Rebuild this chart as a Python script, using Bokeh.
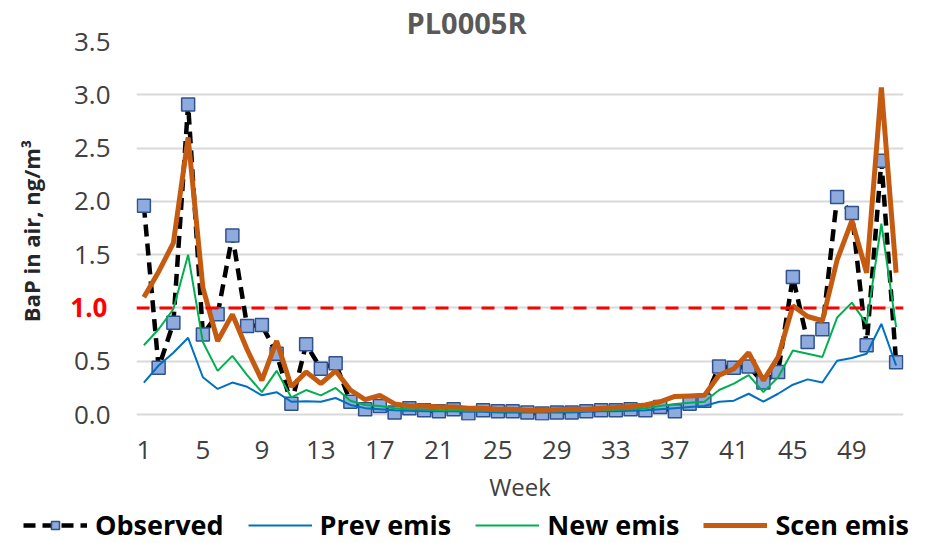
from bokeh.plotting import figure
from bokeh.layouts import column
from bokeh.models import (Range1d, FixedTicker, Legend, LegendItem, Span, Title,
                          LinearAxis, CustomJSTickFormatter, ColumnDataSource)
from bokeh.embed import file_html
from bokeh.resources import INLINE

# ---------------- data ----------------
weeks = list(range(1, 53))
observed = [1.96, 0.44, 0.86, 2.91, 0.75, 0.94, 1.68, 0.83, 0.84, 0.57,
            0.10, 0.66, 0.43, 0.48, 0.12, 0.05, 0.08, 0.02, 0.06, 0.04,
            0.03, 0.05, 0.01, 0.04, 0.03, 0.03, 0.02, 0.01, 0.02, 0.02,
            0.03, 0.04, 0.04, 0.05, 0.04, 0.07, 0.03, 0.10, 0.13, 0.45,
            0.44, 0.45, 0.30, 0.40, 1.29, 0.68, 0.80, 2.04, 1.89, 0.65,
            2.38, 0.49]
prev_emis = [0.30, 0.46, 0.58, 0.72, 0.35, 0.24, 0.30, 0.26, 0.18, 0.21,
             0.12, 0.125, 0.12, 0.155, 0.09, 0.06, 0.05, 0.04, 0.035, 0.03,
             0.03, 0.03, 0.025, 0.025, 0.02, 0.02, 0.02, 0.02, 0.02, 0.02,
             0.025, 0.03, 0.03, 0.035, 0.04, 0.05, 0.06, 0.07, 0.08, 0.12,
             0.13, 0.195, 0.12, 0.195, 0.28, 0.33, 0.30, 0.505, 0.53, 0.57,
             0.85, 0.46]
new_emis = [0.65, 0.80, 0.99, 1.50, 0.68, 0.41, 0.55, 0.37, 0.21, 0.41,
            0.16, 0.23, 0.18, 0.25, 0.13, 0.09, 0.08, 0.06, 0.05, 0.05,
            0.04, 0.04, 0.035, 0.035, 0.03, 0.03, 0.03, 0.03, 0.03, 0.03,
            0.035, 0.04, 0.045, 0.05, 0.06, 0.08, 0.10, 0.11, 0.12, 0.23,
            0.29, 0.37, 0.21, 0.35, 0.60, 0.57, 0.54, 0.91, 1.05, 0.85,
            1.79, 0.82]
scen_emis = [1.10, 1.34, 1.61, 2.60, 1.19, 0.69, 0.94, 0.61, 0.32, 0.69,
             0.26, 0.40, 0.29, 0.41, 0.23, 0.14, 0.18, 0.10, 0.08, 0.08,
             0.07, 0.07, 0.06, 0.06, 0.05, 0.05, 0.04, 0.04, 0.045, 0.05,
             0.05, 0.06, 0.065, 0.075, 0.09, 0.12, 0.17, 0.175, 0.18, 0.37,
             0.43, 0.58, 0.32, 0.54, 1.02, 0.92, 0.88, 1.45, 1.82, 1.33,
             3.07, 1.33]
x_ticks = [1, 5, 9, 13, 17, 21, 25, 29, 33, 37, 41, 45, 49]
y_ticks = [0.0, 0.5, 1.5, 2.0, 2.5, 3.0, 3.5]
limit_value = 1.0
title_text = "PL0005R"
y_label_text = "BaP in air, ng/m³"
x_label_text = "Week"
series_names = ["Observed", "Prev emis", "New emis", "Scen emis"]

FONT = "Open Sans"
TXT = "#404040"

OBS = dict(line_color="black", line_width=4.5, line_dash="12 7")
SQ = dict(marker="square", size=13, fill_color="#8FAADC", line_color="#2F528F",
          line_width=1.5)
PREV = dict(line_color="#0070C0", line_width=2)
NEW = dict(line_color="#00B050", line_width=2)
SCEN = dict(line_color="#C55A11", line_width=5)

src = ColumnDataSource(dict(week=weeks, obs=observed, prev=prev_emis,
                            new=new_emis, scen=scen_emis))

p = figure(width=935, height=505, output_backend="svg", toolbar_location=None,
           x_range=Range1d(0.5, 52.5), y_range=Range1d(-0.056, 3.5),
           min_border_left=136, min_border_right=32, min_border_top=40,
           min_border_bottom=83)
p.outline_line_color = None
p.background_fill_color = "white"
p.border_fill_color = "white"

# title (offset from the frame's left edge)
p.title = Title(text=title_text, align="left", offset=270, text_font=FONT,
                text_font_size="29px", text_font_style="bold", text_color="#595959",
                standoff=0)

# grid
p.xgrid.visible = False
p.ygrid.grid_line_color = "#D9D9D9"
p.ygrid.grid_line_width = 2
p.yaxis.ticker = FixedTicker(ticks=y_ticks)
p.ygrid.ticker = FixedTicker(ticks=y_ticks + [limit_value])
p.xaxis.ticker = FixedTicker(ticks=x_ticks)


def style_axis(ax):
    ax.axis_line_color = None
    ax.major_tick_line_color = None
    ax.minor_tick_line_color = None
    ax.major_tick_out = 0
    ax.major_tick_in = 0
    ax.major_label_text_font = FONT
    ax.major_label_text_font_size = "26px"
    ax.major_label_text_color = TXT


style_axis(p.xaxis[0])
style_axis(p.yaxis[0])

p.yaxis.major_label_standoff = 26
p.yaxis.formatter = CustomJSTickFormatter(code="return tick.toFixed(1);")

p.xaxis.major_label_standoff = 20
p.xaxis.axis_label = x_label_text
p.xaxis.axis_label_text_font = FONT
p.xaxis.axis_label_text_font_style = "normal"
p.xaxis.axis_label_text_font_size = "24px"
p.xaxis.axis_label_text_color = TXT
p.xaxis.axis_label_standoff = 8

# red "1.0" tick label: outer axis whose label is pulled back over the first
# axis' label column; it also carries the y axis title
red_axis = LinearAxis(ticker=FixedTicker(ticks=[limit_value]),
                      formatter=CustomJSTickFormatter(code="return tick.toFixed(1);"))
style_axis(red_axis)
red_axis.major_label_text_color = "#FF0000"
red_axis.major_label_text_font_style = "bold"
red_axis.major_label_standoff = -37
red_axis.axis_label = y_label_text
red_axis.axis_label_text_font = FONT
red_axis.axis_label_text_font_size = "22px"
red_axis.axis_label_text_font_style = "bold"
red_axis.axis_label_text_color = "#262626"
red_axis.axis_label_standoff = 21
p.add_layout(red_axis, "left")

# limit line
p.add_layout(Span(location=limit_value, dimension="width", line_color="#FF0000",
                  line_width=3, line_dash="13 10"))

# series
obs_line = p.line("week", "obs", source=src, **OBS)
obs_pts = p.scatter("week", "obs", source=src, **SQ)
prev_line = p.line("week", "prev", source=src, **PREV)
new_line = p.line("week", "new", source=src, **NEW)
scen_line = p.line("week", "scen", source=src, **SCEN)

# ---------------- legend strip below the chart ----------------
lg = figure(width=935, height=38, output_backend="svg", toolbar_location=None,
            x_range=Range1d(200, 201), y_range=Range1d(200, 201),
            x_axis_location=None, y_axis_location=None,
            min_border_left=0, min_border_right=0, min_border_top=0,
            min_border_bottom=0)
try:
    lg.frame_align = False
    loc_x = 23
except AttributeError:
    loc_x = -113
lg.outline_line_color = None
lg.grid.visible = False
# same series, outside this strip's visible range: only their legend glyphs show
l_obs = lg.line("week", "obs", source=src, **OBS)
l_sq = lg.scatter("week", "obs", source=src, **SQ)
l_prev = lg.line("week", "prev", source=src, **PREV)
l_new = lg.line("week", "new", source=src, **NEW)
l_scen = lg.line("week", "scen", source=src, **SCEN)

legend = Legend(items=[
    LegendItem(label=series_names[0], renderers=[l_obs, l_sq]),
    LegendItem(label=series_names[1], renderers=[l_prev]),
    LegendItem(label=series_names[2], renderers=[l_new]),
    LegendItem(label=series_names[3], renderers=[l_scen]),
], orientation="horizontal", location=(loc_x, 0))
legend.label_text_font = FONT
legend.label_text_font_size = "27px"
legend.label_text_font_style = "bold"
legend.label_text_color = "black"
legend.glyph_width = 64
legend.glyph_height = 20
legend.label_standoff = 8
legend.spacing = 24
legend.padding = 0
legend.margin = 0
legend.border_line_color = None
legend.background_fill_alpha = 0
lg.add_layout(legend, "center")

open("out.html", "w").write(file_html(column(p, lg), INLINE))
